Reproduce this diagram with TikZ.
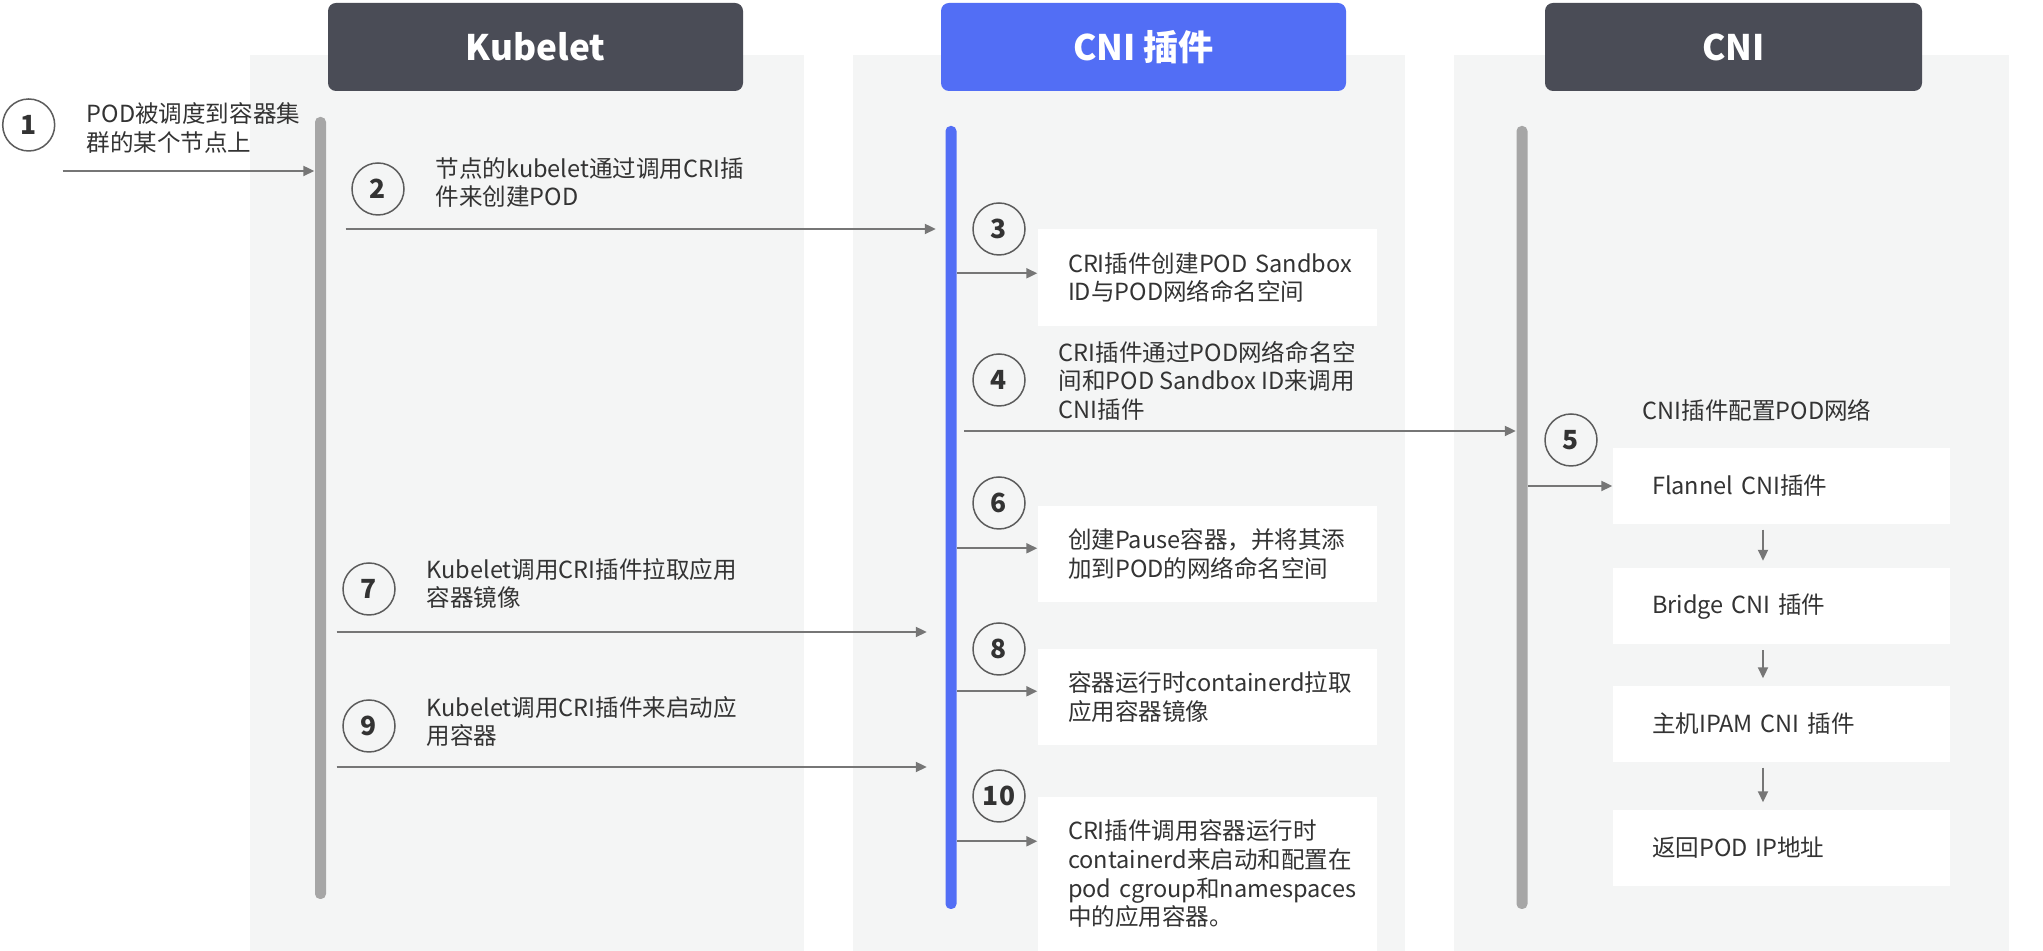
\documentclass[tikz,border=0pt]{standalone}
\usepackage{fontspec}
\setmainfont{Noto Sans CJK SC}
\usetikzlibrary{arrows.meta,positioning,calc}
\definecolor{lanebg}{RGB}{244,245,245}
\definecolor{headdark}{RGB}{74,76,86}
\definecolor{headblue}{RGB}{82,110,245}
\definecolor{bargray}{RGB}{166,166,166}
\definecolor{arrgray}{RGB}{118,118,118}
\definecolor{txtgray}{RGB}{51,51,51}

\begin{document}
\begin{tikzpicture}[>={Triangle[length=0.11cm,width=0.10cm]},font=\fontsize{6.7}{8.15}\selectfont,text=txtgray,
  head/.style={rounded corners=0.08cm,minimum height=0.88cm,text=white,font=\fontsize{10}{12}\selectfont\bfseries},
  bar/.style={rounded corners=0.05cm,minimum width=0.11cm,inner sep=0pt},
  num/.style={circle,draw=txtgray!80,line width=0.015cm,minimum size=0.52cm,inner sep=0pt,font=\fontsize{7.5}{9}\selectfont\bfseries},
  lbl/.style={anchor=west,align=left,inner sep=0pt},
  stepbox/.style={fill=white,minimum width=3.39cm,text width=2.79cm,inner xsep=0.30cm,align=left},
  flowbox/.style={fill=white,minimum width=3.37cm,minimum height=0.76cm,text width=2.59cm,inner xsep=0.39cm,align=left},
  arr/.style={->,draw=arrgray,line width=0.02cm}]
\useasboundingbox (0,0) rectangle (20.43,-9.51);
\fill[white] (0,0) rectangle (20.43,-9.51);
\fill[lanebg] (2.50,-0.55) rectangle (8.04,-9.51);
\fill[lanebg] (8.53,-0.55) rectangle (14.05,-9.51);
\fill[lanebg] (14.54,-0.55) rectangle (20.09,-9.51);

\node[head,fill=headdark,minimum width=4.15cm] (kub) at (5.355,-0.47) {Kubelet};
\node[head,fill=headblue,minimum width=4.05cm] (plug) at (11.435,-0.47) {CNI 插件};
\node[head,fill=headdark,minimum width=3.77cm] (cni) at (17.335,-0.47) {CNI};

\node[bar,fill=bargray,minimum height=7.82cm] (kbar) at (3.205,-5.08) {};
\node[bar,fill=headblue,minimum height=7.83cm] (pbar) at (9.51,-5.175) {};
\node[bar,fill=bargray,minimum height=7.83cm] (cbar) at (15.22,-5.175) {};

\node[stepbox,minimum height=0.97cm] (b3) at (12.075,-2.775) {\mbox{CRI插件创建POD Sandbox}\\ID与POD网络命名空间};
\node[stepbox,minimum height=0.96cm] (b6) at (12.075,-5.54) {创建Pause容器，并将其添\\加到POD的网络命名空间};
\node[stepbox,minimum height=0.96cm] (b8) at (12.075,-6.97) {\mbox{容器运行时containerd拉取}\\应用容器镜像};
\node[stepbox,minimum height=1.54cm] (b10) at (12.075,-8.74) {CRI插件调用容器运行时\\\mbox{containerd来启动和配置在}\\\mbox{pod cgroup和namespaces}\\中的应用容器。};

\node[flowbox] (f1) at (17.815,-4.86) {Flannel CNI插件};
\node[flowbox] (f2) at (17.815,-6.065) {Bridge CNI 插件};
\node[flowbox] (f3) at (17.815,-7.24) {主机IPAM CNI 插件};
\node[flowbox] (f4) at (17.815,-8.48) {返回POD IP地址};

\node[num] (s1) at (0.287,-1.25) {1};
\node[num] (s2) at (3.78,-1.89) {2};
\node[num] (s3) at (9.99,-2.29) {3};
\node[num] (s4) at (9.99,-3.80) {4};
\node[num] (s5) at (15.71,-4.40) {5};
\node[num] (s6) at (9.99,-5.03) {6};
\node[num] (s7) at (3.69,-5.89) {7};
\node[num] (s8) at (9.99,-6.49) {8};
\node[num] (s9) at (3.69,-7.26) {9};
\node[num] (s10) at (9.99,-7.96) {10};

\node[lbl] (t1) at (0.86,-1.28) {POD被调度到容器集\\群的某个节点上};
\node[lbl] (t2) at (4.35,-1.825) {节点的kubelet通过调用CRI插\\件来创建POD};
\node[lbl] (t4) at (10.58,-3.807) {CRI插件通过POD网络命名空\\间和POD Sandbox ID来调用\\CNI插件};
\node[lbl] (t5) at (16.42,-4.10) {CNI插件配置POD网络};
\node[lbl] (t7) at (4.26,-5.835) {Kubelet调用CRI插件拉取应用\\容器镜像};
\node[lbl] (t9) at (4.26,-7.215) {Kubelet调用CRI插件来启动应\\用容器};

\coordinate (p1) at (0.625,-1.71);
\coordinate (y2) at (0,-2.29);
\coordinate (y4) at (0,-4.31);
\coordinate (y7) at (0,-6.32);
\coordinate (y9) at (0,-7.67);
\coordinate (e3) at ([yshift=-0.45cm]b3.north west);
\coordinate (e6) at ([yshift=-0.43cm]b6.north west);
\coordinate (e8) at ([yshift=-0.43cm]b8.north west);
\coordinate (e10) at ([yshift=-0.45cm]b10.north west);

\draw[arr] (p1) -- (kbar.west |- p1);
\draw[arr,shorten <=0.19cm,shorten >=0.09cm] (kbar.east |- y2) -- (pbar.west |- y2);
\draw[arr] (pbar.east |- e3) -- (e3);
\draw[arr,shorten <=0.07cm] (pbar.east |- y4) -- (cbar.west |- y4);
\draw[arr] (cbar.east |- f1.west) -- (f1.west);
\draw[arr] (pbar.east |- e6) -- (e6);
\draw[arr,shorten <=0.10cm,shorten >=0.18cm] (kbar.east |- y7) -- (pbar.west |- y7);
\draw[arr] (pbar.east |- e8) -- (e8);
\draw[arr,shorten <=0.10cm,shorten >=0.18cm] (kbar.east |- y9) -- (pbar.west |- y9);
\draw[arr] (pbar.east |- e10) -- (e10);
\foreach \a/\b in {f1/f2,f2/f3,f3/f4}
  \draw[arr,shorten <=0.05cm,shorten >=0.07cm] ([xshift=-0.185cm]\a.south) -- ([xshift=-0.185cm]\b.north);
\end{tikzpicture}
\end{document}
